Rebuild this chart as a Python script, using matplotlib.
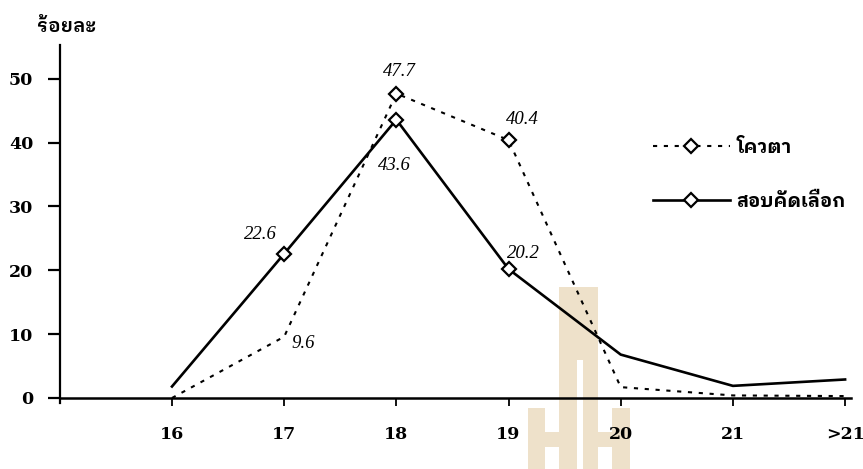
import matplotlib
matplotlib.use('Agg')
import matplotlib.pyplot as plt
from matplotlib.patches import Rectangle

# data (percent by age)
ages = ['16', '17', '18', '19', '20', '21', '>21']
quota = [0, 9.6, 47.7, 40.4, 1.7, 0.4, 0.3]
exam = [1.8, 22.6, 43.6, 20.2, 6.8, 1.9, 2.9]
quota_label = 'โควตา'
exam_label = 'สอบคัดเลือก'
ylabel = 'ร้อยละ'

# which points carry a diamond + a number, and where the number sits (points)
quota_marks = [2, 3]
exam_marks = [1, 2, 3]
quota_offsets = {1: (14, -5), 2: (2, 16), 3: (10, 15)}
exam_offsets = {1: (-17, 14), 2: (-1.5, -33), 3: (11, 11.5)}

thai = ['IBM Plex Sans Thai Looped', 'Noto Sans Thai Looped', 'DejaVu Sans']
W, H = 863, 469

fig = plt.figure(figsize=(W / 100, H / 100), dpi=100)
ax = fig.add_axes([59.8 / W, (H - 403.1) / H, 790.9 / W, 358.1 / H])
ax.patch.set_visible(False)

# faint watermark behind the chart (figure pixels, from top-left)
wm = '#eee1ca'
for x0, y0, x1, y1, c in [(559, 287, 598, H, wm), (528, 408, 545, H, wm),
                          (545, 432, 559, 447, wm), (612, 408, 630, H, wm),
                          (598, 432, 612, 447, wm), (577, 360, 583, H, 'white')]:
    fig.add_artist(Rectangle((x0 / W, 1 - y1 / H), (x1 - x0) / W, (y1 - y0) / H,
                             transform=fig.transFigure, color=c, lw=0,
                             zorder=-2 if c == wm else -1))

x = list(range(1, len(ages) + 1))
ax.plot(x, quota, color='black', lw=1.5, ls=(0, (2, 3.2)), marker='D', ms=7,
        mfc='white', mec='black', mew=1.6, markevery=quota_marks, label=quota_label)
ax.plot(x, exam, color='black', lw=1.9, marker='D', ms=7,
        mfc='white', mec='black', mew=1.6, markevery=exam_marks, label=exam_label)

for series, offs in [(quota, quota_offsets), (exam, exam_offsets)]:
    for i, (dx, dy) in offs.items():
        ax.annotate(f'{series[i]:.1f}', (x[i], series[i]), xytext=(dx, dy),
                    textcoords='offset points', ha='center', va='center',
                    family='Liberation Serif', style='italic', fontsize=13.5)

ax.set_xlim(0, 7.05)
ax.set_ylim(-0.8, 55.3)
ax.set_xticks(x)
ax.set_xticklabels(ages)
ax.set_yticks([0, 10, 20, 30, 40, 50])
ax.spines['top'].set_visible(False)
ax.spines['right'].set_visible(False)
ax.spines['bottom'].set_position(('data', 0))
ax.spines['left'].set_linewidth(1.6)
ax.spines['bottom'].set_linewidth(1.8)
ax.tick_params(axis='x', direction='out', length=6, width=1.3, pad=14)
ax.tick_params(axis='y', direction='out', length=8.6, width=1.6, pad=10.5)
for lab in ax.get_xticklabels() + ax.get_yticklabels():
    lab.set_family('DejaVu Serif')
    lab.set_weight('bold')
    lab.set_fontsize(12.5)

fig.text(37 / W, 1 - 27 / H, ylabel, family=thai, fontsize=14, weight='semibold',
         ha='left', va='center')

leg = ax.legend(loc='upper left', bbox_to_anchor=(653 / W, 1 - 139 / H),
                bbox_transform=fig.transFigure, frameon=False, borderpad=0,
                borderaxespad=0, handlelength=4.1, handletextpad=0.37,
                labelspacing=1.9, numpoints=1,
                prop={'family': thai, 'weight': 'bold', 'size': 13.5})

fig.savefig('out.png')
